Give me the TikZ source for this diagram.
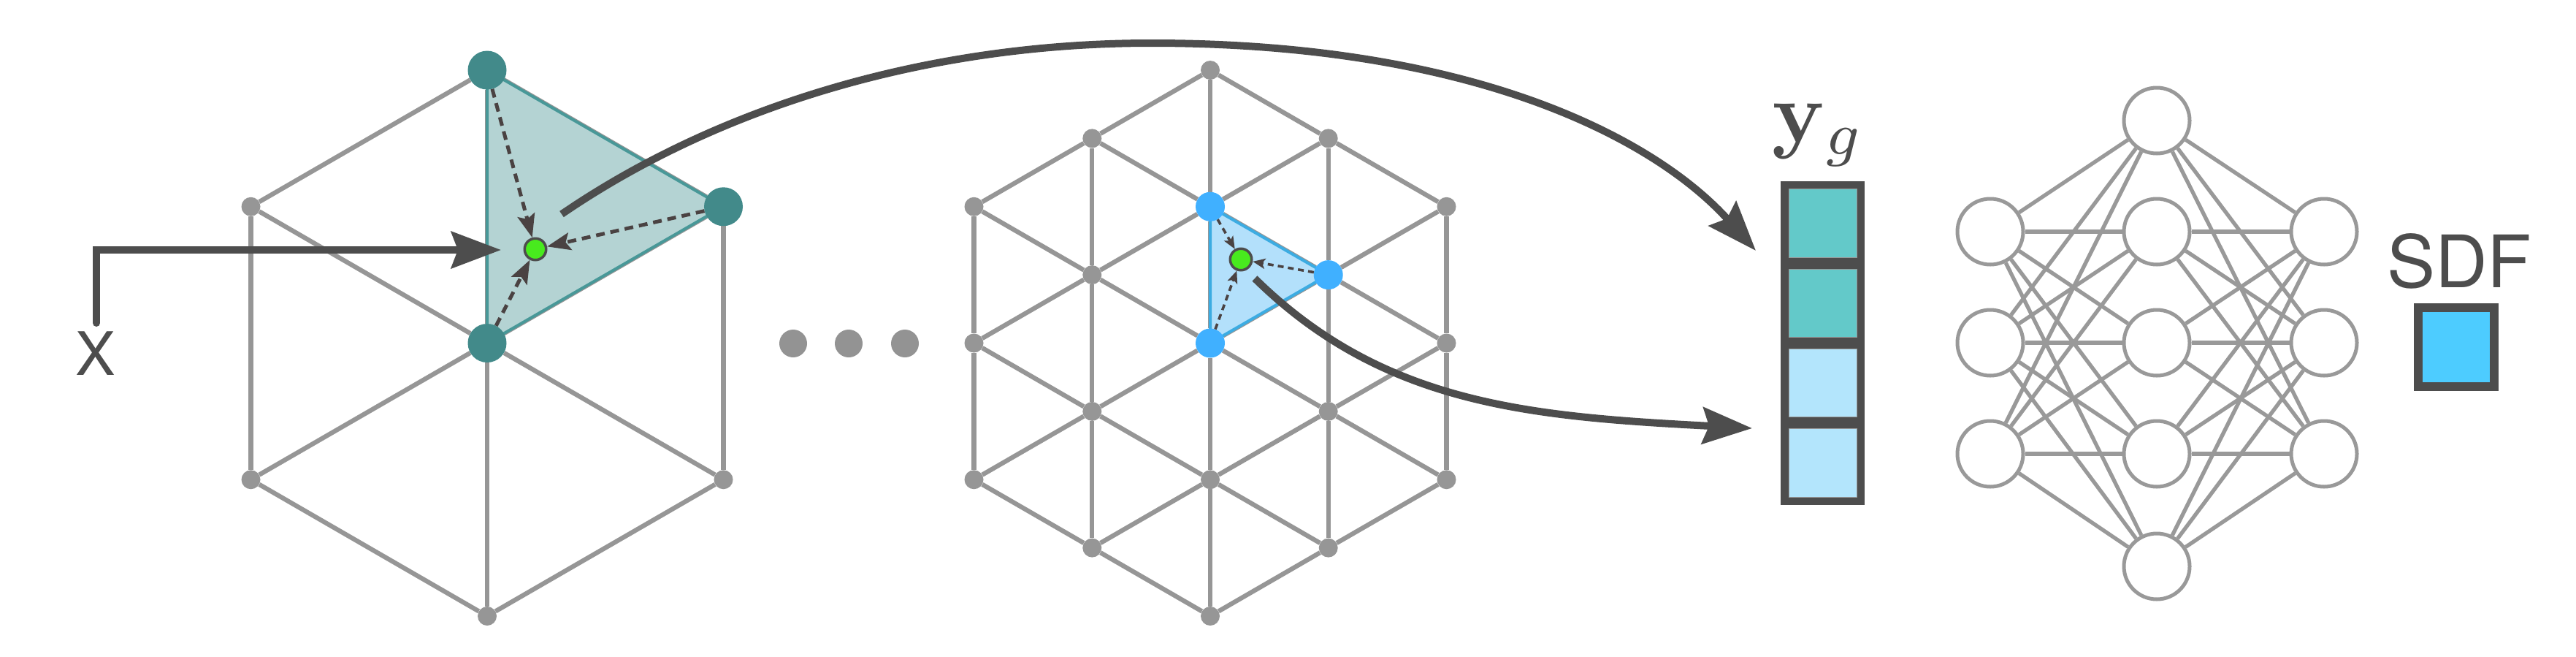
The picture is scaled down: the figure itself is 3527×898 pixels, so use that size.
\documentclass[tikz,border=0pt]{standalone}
\usepackage[no-math]{fontspec}
\newfontfamily\hv{TeX Gyre Heros}
\usetikzlibrary{arrows.meta}
\pgfdeclarelayer{bg}
\pgfsetlayers{bg,main}
\definecolor{dk}{RGB}{77,77,77}
\definecolor{lat}{RGB}{150,150,150}
\definecolor{tealv}{RGB}{66,138,138}
\definecolor{tealfill}{RGB}{180,211,211}
\definecolor{tealedge}{RGB}{72,152,152}
\definecolor{bluev}{RGB}{64,176,255}
\definecolor{bluefill}{RGB}{179,224,251}
\definecolor{blueedge}{RGB}{60,172,226}
\definecolor{grn}{RGB}{72,234,30}
\definecolor{dshc}{RGB}{74,66,66}
\definecolor{cellteal}{RGB}{99,201,201}
\definecolor{cellblue}{RGB}{179,229,252}
\definecolor{sdfblue}{RGB}{77,204,255}
\definecolor{nng}{RGB}{153,153,153}
\definecolor{ellc}{RGB}{147,147,147}
\begin{document}
\begin{tikzpicture}[x=1pt,y=-1pt,
  gdot/.style={circle,fill=lat,inner sep=0pt,minimum size=26pt},
  tdot/.style={circle,fill=tealv,inner sep=0pt,minimum size=53pt},
  bdot/.style={circle,fill=bluev,inner sep=0pt,minimum size=40pt},
  qdot/.style={circle,fill=grn,draw=dk,line width=3.5pt,inner sep=0pt,minimum size=29.5pt},
  ddot/.style={circle,fill=ellc,inner sep=0pt,minimum size=38pt},
  latline/.style={draw=lat,line width=6.3pt},
  bigarrow/.style={draw=dk,line width=10pt,-{Stealth[length=68pt,width=50pt,inset=9pt]}},
  dasharrowL/.style={draw=dshc,line width=5pt,dash pattern=on 12pt off 8pt,-{Stealth[length=32pt,width=24pt,inset=6pt]}},
  dasharrowR/.style={draw=dshc,line width=3.6pt,dash pattern=on 8pt off 6pt,-{Stealth[length=17pt,width=14pt,inset=4pt]}},
  cell/.style={draw=nng,line width=1pt,inner sep=0pt,minimum width=93pt,minimum height=93.25pt},
  nn/.style={circle,draw=nng,fill=white,line width=5pt,inner sep=0pt,minimum size=90pt},
  nnedge/.style={draw=nng,line width=5.3pt}
]
\useasboundingbox (0,0) rectangle (3527,898);

% ---------- left hexagon ----------
\node[tdot] (lT)  at (667,96) {};
\node[gdot] (lUL) at (343.5,282.75) {};
\node[tdot] (lUR) at (990.5,282.75) {};
\node[tdot] (lC)  at (667,469.5) {};
\node[gdot] (lLL) at (343.5,656.25) {};
\node[gdot] (lLR) at (990.5,656.25) {};
\node[gdot] (lB)  at (667,843) {};
\node[qdot] (lg)  at (733,341) {};

\begin{pgfonlayer}{bg}
  \draw[latline] (lT) -- (lUL);
  \draw[latline] (lT) -- (lUR);
  \draw[latline] (lUL) -- (lLL);
  \draw[latline] (lUR) -- (lLR);
  \draw[latline] (lLL) -- (lB);
  \draw[latline] (lLR) -- (lB);
  \foreach \v in {lT,lUL,lUR,lLL,lLR,lB} \draw[latline] (lC) -- (\v);
  \fill[tealfill] (lT.center) -- (lUR.center) -- (lC.center) -- cycle;
  \draw[tealedge,line width=4pt,line join=round] (lT.center) -- (lUR.center) -- (lC.center) -- cycle;
\end{pgfonlayer}

\draw[dasharrowL] (lT) -- (lg);
\draw[dasharrowL] (lUR) -- (lg);
\draw[dasharrowL] (lC) -- (lg);

% input arrow
\coordinate (xs) at (132,442);
\coordinate (xe) at (686,342);
\draw[bigarrow,line cap=round] (xs) |- (xe);
\node[text=dk,font=\hv\fontsize{82}{90}\selectfont,anchor=base,inner sep=0pt] (xl) at (131,513) {X};

% ellipsis
\node[ddot] (e1) at (1086,470) {};
\node[ddot] (e2) at (1162,470) {};
\node[ddot] (e3) at (1239,470) {};

% ---------- right lattice ----------
\node[gdot] (ra1) at (1333.5,282.75) {};
\node[gdot] (ra2) at (1333.5,469.5) {};
\node[gdot] (ra3) at (1333.5,656.25) {};
\node[gdot] (rb1) at (1495.3,189.4) {};
\node[gdot] (rb2) at (1495.3,376.1) {};
\node[gdot] (rb3) at (1495.3,562.9) {};
\node[gdot] (rb4) at (1495.3,749.6) {};
\node[gdot] (rc1) at (1657,96) {};
\node[bdot] (rc2) at (1657,282.75) {};
\node[bdot] (rc3) at (1657,469.5) {};
\node[gdot] (rc4) at (1657,656.25) {};
\node[gdot] (rc5) at (1657,843) {};
\node[gdot] (rd1) at (1818.7,189.4) {};
\node[bdot] (rd2) at (1818.7,376.1) {};
\node[gdot] (rd3) at (1818.7,562.9) {};
\node[gdot] (rd4) at (1818.7,749.6) {};
\node[gdot] (re1) at (1980.5,282.75) {};
\node[gdot] (re2) at (1980.5,469.5) {};
\node[gdot] (re3) at (1980.5,656.25) {};
\node[qdot] (rg) at (1699,355) {};

\begin{pgfonlayer}{bg}
  % verticals
  \foreach \a/\b in {ra1/ra2,ra2/ra3,rb1/rb2,rb2/rb3,rb3/rb4,rc1/rc2,rc2/rc3,rc3/rc4,rc4/rc5,rd1/rd2,rd2/rd3,rd3/rd4,re1/re2,re2/re3}
    \draw[latline] (\a) -- (\b);
  % diagonals
  \foreach \a/\b in {ra1/rb1,ra1/rb2,ra2/rb2,ra2/rb3,ra3/rb3,ra3/rb4,
                     rb1/rc1,rb1/rc2,rb2/rc2,rb2/rc3,rb3/rc3,rb3/rc4,rb4/rc4,rb4/rc5,
                     rd1/rc1,rd1/rc2,rd2/rc2,rd2/rc3,rd3/rc3,rd3/rc4,rd4/rc4,rd4/rc5,
                     re1/rd1,re1/rd2,re2/rd2,re2/rd3,re3/rd3,re3/rd4}
    \draw[latline] (\a) -- (\b);
  \fill[bluefill] (rc2.center) -- (rd2.center) -- (rc3.center) -- cycle;
  \draw[blueedge,line width=4pt,line join=round] (rc2.center) -- (rd2.center) -- (rc3.center) -- cycle;
\end{pgfonlayer}

\draw[dasharrowR] (rc2) -- (rg);
\draw[dasharrowR] (rd2) -- (rg);
\draw[dasharrowR] (rc3) -- (rg);

% ---------- feature vector ----------
\node[fill=dk,inner sep=0pt,minimum width=115pt,minimum height=443pt] (yg) at (2495.5,469.5) {};
\node[cell,fill=cellteal] (c1) at (2495.5,305.6) {};
\node[cell,fill=cellteal] (c2) at (2495.5,414.9) {};
\node[cell,fill=cellblue] (c3) at (2495.5,524.1) {};
\node[cell,fill=cellblue] (c4) at (2495.5,633.4) {};
\node[text=dk,scale=11.8,anchor=base,inner sep=0pt] (ylab) at (2490,194) {$\mathbf{y}_g$};

% ---------- long arrows ----------
\coordinate (c1a) at (769,293);
\coordinate (c1b) at (2404,343);
\draw[bigarrow] (c1a) .. controls (990,142) and (1277,59) .. (1576,59)
                .. controls (2026,59) and (2270,194) .. (c1b);
\coordinate (c2a) at (1718,381);
\coordinate (c2b) at (2399,586);
\draw[bigarrow] (c2a) .. controls (1895,555) and (2098,570) .. (c2b);

% ---------- network ----------
\node[nn] (nT)  at (2953,165) {};
\node[nn] (nL1) at (2725,317) {};
\node[nn] (nL2) at (2725,469) {};
\node[nn] (nL3) at (2725,621) {};
\node[nn] (nM1) at (2953,317) {};
\node[nn] (nM2) at (2953,469) {};
\node[nn] (nM3) at (2953,621) {};
\node[nn] (nB)  at (2953,775) {};
\node[nn] (nR1) at (3182,317) {};
\node[nn] (nR2) at (3182,469) {};
\node[nn] (nR3) at (3182,621) {};
\begin{pgfonlayer}{bg}
  \foreach \a in {nL1,nL2,nL3,nR1,nR2,nR3}
    \foreach \b in {nT,nM1,nM2,nM3,nB}
      \draw[nnedge] (\a) -- (\b);
\end{pgfonlayer}

% ---------- output ----------
\node[text=dk,font=\hv\fontsize{99}{110}\selectfont,anchor=base,inner sep=0pt] (sdflab) at (3367,393) {SDF};
\node[draw=dk,fill=sdfblue,line width=12pt,inner sep=0pt,minimum width=104pt,minimum height=108pt] (sdf) at (3363,475) {};
\end{tikzpicture}
\end{document}
